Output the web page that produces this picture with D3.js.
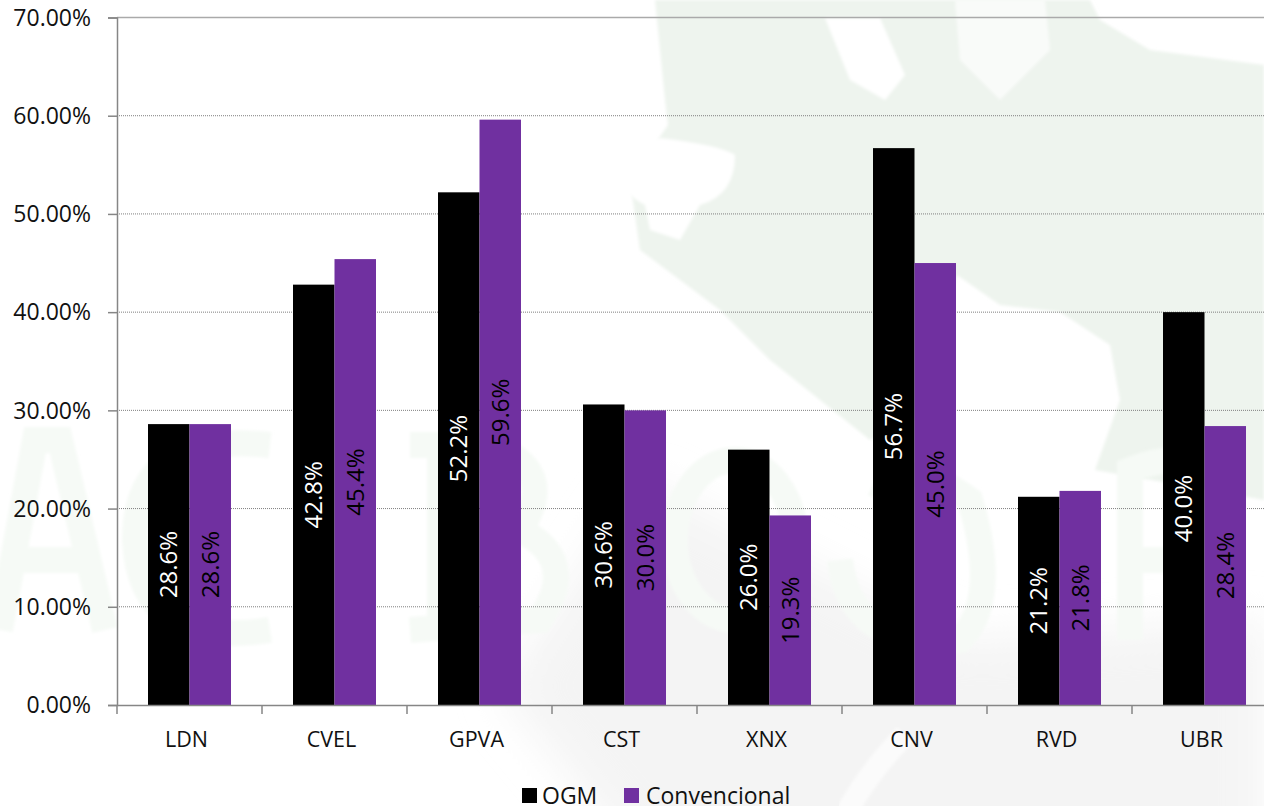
<!DOCTYPE html>
<html><head><meta charset="utf-8"><script src="https://cdn.jsdelivr.net/npm/d3@7/dist/d3.min.js"></script>
<style>html,body{margin:0;padding:0;background:#fff;overflow:hidden}svg{display:block}text{font-family:"Open Sans",sans-serif}</style></head><body>
<svg id="c" width="1264" height="806"></svg>
<script>
const categories=["LDN","CVEL","GPVA","CST","XNX","CNV","RVD","UBR"];
const ogm=[28.6,42.8,52.2,30.6,26.0,56.7,21.2,40.0];
const convencional=[28.6,45.4,59.6,30.0,19.3,45.0,21.8,28.4];
const seriesNames=["OGM","Convencional"];
const seriesColors=["#000000","#7030A0"];
const yTicks=[0,10,20,30,40,50,60,70];
const svg=d3.select("#c");
const leftX=117,cw=145,topY=17.5,bottomY=705;
const x=d3.scaleBand().domain(categories).range([leftX,leftX+cw*categories.length]).paddingInner(0).paddingOuter(0);
const y=d3.scaleLinear().domain([0,70]).range([bottomY,topY]);
const inner=d3.scaleBand().domain(seriesNames).range([31,114]);
const font="'Open Sans',sans-serif";
// faint watermark
const defs=svg.append("defs");
defs.append("filter").attr("id","b1").attr("x","-10%").attr("y","-10%").attr("width","120%").attr("height","120%").append("feGaussianBlur").attr("stdDeviation",1.5);
defs.append("filter").attr("id","b2").attr("x","-10%").attr("y","-10%").attr("width","120%").attr("height","120%").append("feGaussianBlur").attr("stdDeviation",22);
const bg=svg.append("g");
bg.append("path").attr("fill","#f4f4f4").attr("filter","url(#b2)").attr("d","M500,690 L640,480 L800,560 L960,640 L1264,620 L1264,860 L640,860 Z");
bg.append("path").attr("fill","none").attr("stroke","#fbfbfb").attr("stroke-width",22).attr("filter","url(#b1)").attr("d","M905,735 Q870,770 845,815");
bg.append("path").attr("fill","#eef4ee").attr("filter","url(#b1)").attr("d","M655,0 L665,100 L668,125 L630,180 L640,250 L720,310 L770,360 L870,440 L915,420 L957,275 L1000,305 L1060,312 L1110,345 L1120,400 L1095,470 L1264,500 L1264,65 L1150,50 L1100,20 L1090,0 Z");
bg.append("path").attr("fill","#fff").attr("filter","url(#b1)").attr("d","M622,180 Q630,140 660,138 Q720,145 735,155 Q735,195 700,205 L680,240 L650,230 L645,205 Q625,195 622,180 Z");
bg.append("path").attr("fill","#fff").attr("filter","url(#b1)").attr("d","M825,18 L880,18 L905,75 L885,100 L850,80 Z");
bg.append("path").attr("fill","#f9fbf9").attr("filter","url(#b1)").attr("d","M955,0 L1045,0 L1050,50 L1000,100 L960,60 Z");
const wm=bg.append("g").attr("fill","none").attr("stroke","#f6faf6").attr("stroke-width",26).attr("filter","url(#b1)");
wm.append("path").attr("d","M0,630 L35,440 L60,440 L105,630 M15,560 L85,560");
wm.append("path").attr("d","M270,445 Q135,430 135,540 Q140,650 270,630");
wm.append("path").attr("d","M410,445 L490,445 Q560,470 520,530 Q580,560 540,620 L410,630 M440,445 L440,630");
wm.append("ellipse").attr("cx",735).attr("cy",540).attr("rx",60).attr("ry",80);
wm.append("path").attr("d","M880,500 Q900,450 970,500 Q1000,600 960,640 Q850,650 840,560");
wm.append("path").attr("d","M1130,640 L1130,470 Q1180,450 1220,470 M1130,560 L1200,560");
// grid
const g=svg.append("g");
g.selectAll("line.grid").data(yTicks.filter(d=>d>0&&d<70)).join("line").attr("class","grid")
 .attr("x1",leftX).attr("x2",1264).attr("y1",d=>y(d)).attr("y2",d=>y(d))
 .attr("stroke","#7f7f7f").attr("stroke-width",1).attr("stroke-dasharray","1 1");
g.append("line").attr("x1",leftX).attr("x2",1264).attr("y1",y(70)).attr("y2",y(70)).attr("stroke","#aaa").attr("stroke-width",1.5);
// bars
[ogm,convencional].forEach((vals,i)=>{
 const s=svg.append("g");
 s.selectAll("rect").data(vals).join("rect")
  .attr("x",(d,k)=>x(categories[k])+inner(seriesNames[i])).attr("width",inner.bandwidth())
  .attr("y",d=>y(d)).attr("height",d=>y(0)-y(d)).attr("fill",seriesColors[i]);
 s.selectAll("text").data(vals).join("text")
  .attr("transform",(d,k)=>`translate(${x(categories[k])+inner(seriesNames[i])+inner.bandwidth()/2},${(y(d)+y(0))/2}) rotate(-90)`)
  .attr("text-anchor","middle").attr("dy","0.35em")
  .attr("fill",i==0?"#fff":"#000").style("font-family",font).style("font-size","24px").text(d=>d.toFixed(1)+"%");
});
// axes
const ya=d3.axisLeft(y).tickValues(yTicks).tickFormat(d=>d.toFixed(2)+"%").tickSize(9).tickPadding(17);
const yg=svg.append("g").attr("transform",`translate(${leftX},0)`).call(ya);
yg.select(".domain").attr("stroke","#868686").attr("stroke-width",1.5);
yg.selectAll("line").attr("stroke","#868686").attr("stroke-width",1.5);
yg.selectAll("text").style("font-family",font).style("font-size","23px").attr("fill","#111").attr("dy","0.34em");
const xa=d3.axisBottom(x).tickSize(0).tickPadding(27);
const xg=svg.append("g").attr("transform",`translate(0,${bottomY})`).call(xa);
xg.select(".domain").attr("stroke","#868686").attr("stroke-width",1.5);
xg.selectAll("text").style("font-family",font).style("font-size","21.5px").attr("fill","#111").attr("dx",-3);
xg.selectAll("line.t").data(d3.range(categories.length+1)).join("line").attr("class","t")
 .attr("x1",d=>leftX+d*cw).attr("x2",d=>leftX+d*cw).attr("y1",0).attr("y2",9).attr("stroke","#868686").attr("stroke-width",1.5);
// legend
const lg=svg.append("g");
const lx=[522,624];
seriesNames.forEach((n,i)=>{
 lg.append("rect").attr("x",lx[i]).attr("y",788).attr("width",15).attr("height",15).attr("fill",seriesColors[i]);
 lg.append("text").attr("x",lx[i]+(i?22:20)).attr("y",803.5).style("font-family",font).style("font-size","23px").attr("fill","#111").text(n);
});
</script></body></html>
